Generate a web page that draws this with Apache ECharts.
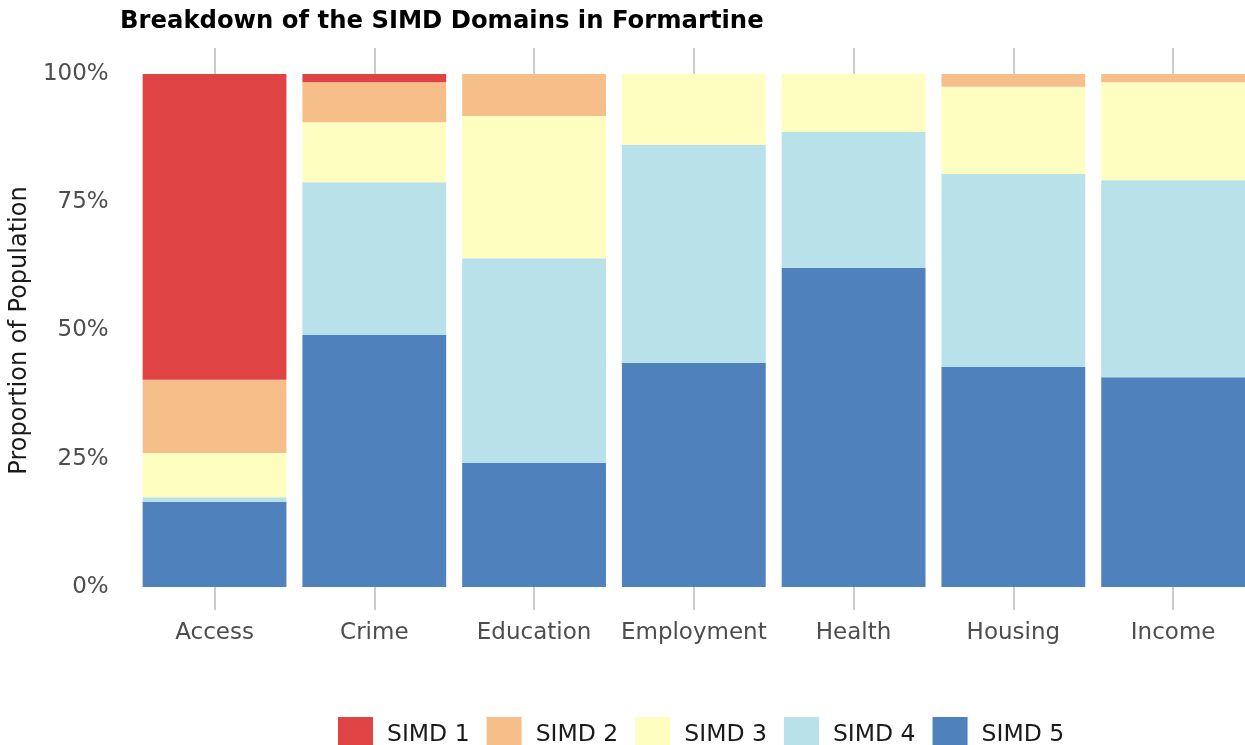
<!DOCTYPE html>
<html>
<head>
<meta charset="utf-8">
<title>SIMD Domains</title>
<script src="https://cdn.jsdelivr.net/npm/echarts@6/dist/echarts.min.js"></script>
<style>
	html,body{margin:0;padding:0;background:#fff;overflow:hidden;}
	/* 比窗口略宽，最右侧柱子被裁掉一点 */
	#chart{width:1260px;height:745px;}
</style>
</head>
<body>
<div id="chart"></div>
<script>
// 数据：每个领域各 SIMD 五分位所占比例 (%)
let domains = ['Access','Crime','Education','Employment','Health','Housing','Income'];
let simd1 = [59.6, 1.6, 0, 0, 0, 0, 0];
let simd2 = [14.3, 7.8, 8.2, 0, 0, 2.5, 1.6];
let simd3 = [8.6, 11.7, 27.7, 13.8, 11.3, 17.0, 19.1];
let simd4 = [0.9, 29.8, 39.9, 42.5, 26.5, 37.6, 38.4];
let simd5 = [16.6, 49.1, 24.2, 43.7, 62.2, 42.9, 40.9];
let legendNames = ['SIMD 1','SIMD 2','SIMD 3','SIMD 4','SIMD 5'];

let colors = {
	'SIMD 1':'#DF4344',
	'SIMD 2':'#F6BE88',
	'SIMD 3':'#FEFEC0',
	'SIMD 4':'#B9E1EA',
	'SIMD 5':'#4F81BC'
};
let font = 'DejaVu Sans';

function makeSeries(name,data){
	return {
		name:name,
		type:'bar',
		stack:'total',
		barCategoryGap:'10%',
		itemStyle:{color:colors[name]},
		data:data
	};
}

let myChart = echarts.init(document.getElementById('chart'));
let option = {
	backgroundColor:'#fff',
	animation:false,
	title:{
		text:'Breakdown of the SIMD Domains in Formartine',
		left:120,
		top:10,
		padding:0,
		textStyle:{fontFamily:font,fontSize:24.3,fontWeight:'bold',color:'#000'}
	},
	legend:{
		data:legendNames,
		left:338,
		top:717,
		padding:0,
		itemWidth:35,
		itemHeight:35,
		itemGap:17,
		icon:'rect',
		textStyle:{fontFamily:font,fontSize:23.5,color:'#1a1a1a',padding:[0,0,0,9]}
	},
	grid:{left:133,top:74,width:1120,height:513},
	xAxis:[{
		type:'category',
		data:domains,
		axisLine:{show:false},
		axisTick:{show:true,alignWithLabel:true,length:23,lineStyle:{color:'#cccccc',width:2}},
		axisLabel:{interval:0,fontFamily:font,fontSize:23,color:'#4d4d4d',margin:35}
	},{
		// 顶部的刻度线
		type:'category',
		position:'top',
		data:domains,
		axisLine:{show:false},
		axisTick:{show:true,alignWithLabel:true,length:26,lineStyle:{color:'#cccccc',width:2}},
		axisLabel:{show:false}
	}],
	yAxis:{
		type:'value',
		min:0,
		max:100,
		interval:25,
		name:'Proportion of Population',
		nameLocation:'middle',
		nameGap:99,
		nameTextStyle:{fontFamily:font,fontSize:24,color:'#1a1a1a'},
		axisLine:{show:false},
		axisTick:{show:false},
		splitLine:{show:false},
		axisLabel:{fontFamily:font,fontSize:23,color:'#4d4d4d',margin:26,padding:[4,0,0,0],formatter:'{value}%'}
	},
	// SIMD 5 在最下面
	series:[
		makeSeries('SIMD 5',simd5),
		makeSeries('SIMD 4',simd4),
		makeSeries('SIMD 3',simd3),
		makeSeries('SIMD 2',simd2),
		makeSeries('SIMD 1',simd1)
	]
};
myChart.setOption(option);
</script>
</body>
</html>
